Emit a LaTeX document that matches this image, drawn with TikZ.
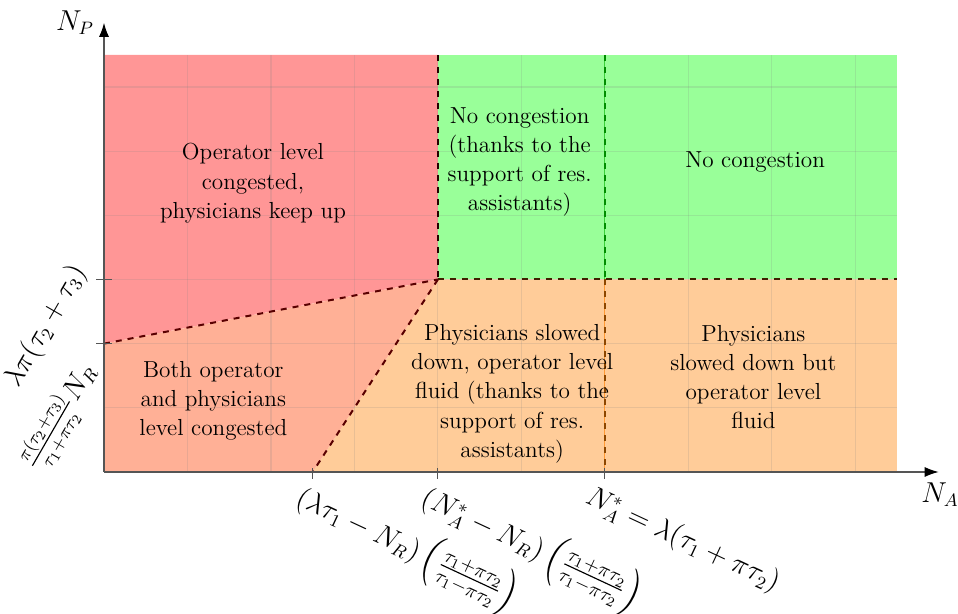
\documentclass[tikz,border=0pt]{standalone}
\usepackage{amsmath}
\usetikzlibrary{arrows.meta}
\definecolor{cRed}{RGB}{255,150,150}
\definecolor{cSalmon}{RGB}{255,176,150}
\definecolor{cOrange}{RGB}{255,204,153}
\definecolor{cGreen}{RGB}{153,255,153}
\definecolor{cAxis}{RGB}{85,85,85}
\newcommand{\bigfr}[2]{\frac{\mbox{\fontsize{10.3}{12}\selectfont$#1$}}{\mbox{\fontsize{10.3}{12}\selectfont$#2$}}}
\tikzset{
  region/.style={font=\fontsize{11.6}{14.6}\selectfont, align=center, inner sep=0pt},
  ticklab/.style={font=\fontsize{13.3}{15}\selectfont, inner sep=0pt},
  ylab/.style={font=\fontsize{13.5}{16}\selectfont, inner sep=0pt},
  axlab/.style={font=\fontsize{13.5}{16}\selectfont, inner sep=0pt},
  bord/.style={dashed, line width=1pt},
  tickmark/.style={cAxis, line width=0.6pt},
}
\begin{document}
\begin{tikzpicture}[x=0.5pt,y=0.5pt]
\useasboundingbox (0,0) rectangle (958,614);
\begin{scope}[shift={(104,142)}, x=41.735pt, y=32.085pt]
  % fills
  \fill[cRed] (0,2) -- (0,6.5) -- (4,6.5) -- (4,3) -- cycle;
  \fill[cGreen] (4,3) -- (4,6.5) -- (9.5,6.5) -- (9.5,3) -- cycle;
  \fill[cOrange] (2.5,0) -- (4,3) -- (9.5,3) -- (9.5,0) -- cycle;
  \fill[cSalmon] (0,0) -- (0,2) -- (4,3) -- (2.5,0) -- cycle;
  % grid
  \foreach \i in {1,...,9} \draw[gray, opacity=0.18, line width=0.6pt] (\i,0) -- (\i,6.5);
  \foreach \j in {1,...,6} \draw[gray, opacity=0.18, line width=0.6pt] (0,\j) -- (9.5,\j);
  % thin solid region lines
  \draw[green!75!black, opacity=0.6, line width=0.6pt] (6,3) -- (6,6.5);
  \draw[orange!80, line width=0.6pt] (6,0) -- (6,3);
  \draw[orange!60!black, line width=0.6pt] (0,0) -- (9.5,0);
  % named points
  \coordinate (O) at (0,0);
  \coordinate (Xend) at (10,0);
  \coordinate (Yend) at (0,7);
  \coordinate (C) at (4,3);
  \coordinate (L) at (0,2);
  \coordinate (L3) at (0,3);
  \coordinate (B) at (2.5,0);
  \coordinate (T4) at (4,6.5);
  \coordinate (T6) at (6,6.5);
  \coordinate (M6) at (6,3);
  \coordinate (B4) at (4,0);
  \coordinate (B6) at (6,0);
  \coordinate (R3) at (9.5,3);
  % dashed borders
  \draw[bord, black!85!red] (T4) -- (C);
  \draw[bord, red!35!black] (L) -- (C);
  \draw[bord, red!35!black] (C) -- (B);
  \draw[bord, black!75!orange] (C) -- (R3);
  \draw[bord, green!55!black] (T6) -- (M6);
  \draw[bord, orange!55!black] (M6) -- (B6);
  % axes
  \draw[cAxis, line width=0.6pt, -{Latex[black,length=7pt,width=5pt]}] (O) -- (Xend);
  \draw[cAxis, line width=0.6pt, -{Latex[black,length=7pt,width=5pt]}] (O) -- (Yend);
  % ticks
  \draw[tickmark] ([yshift=-3.5pt]B) -- ([yshift=2pt]B);
  \draw[tickmark] ([yshift=-3.5pt]B4) -- ([yshift=2pt]B4);
  \draw[tickmark] ([yshift=-3.5pt]B6) -- ([yshift=2pt]B6);
  \draw[tickmark] ([xshift=-4pt]L) -- ([xshift=4pt]L);
  \draw[tickmark] ([xshift=-4pt]L3) -- ([xshift=4pt]L3);
  % region texts
  \node[region] (t1) at (1.785,4.50) {Operator level\\congested,\\physicians keep up};
  \node[region] (t2) at (4.98,4.83) {No congestion\\(thanks to the\\support of res.\\assistants)};
  \node[region] (t3) at (7.8,4.83) {No congestion};
  \node[region] (t4) at (4.89,1.22) {Physicians slowed\\down, operator level\\fluid (thanks to the\\support of res.\\assistants)};
  \node[region] (t5) at (7.78,1.48) {Physicians\\slowed down but\\operator level\\fluid};
  \node[region] (t6) at (1.31,1.11) {Both operator\\and physicians\\level congested};
\end{scope}
% axis labels
\node[axlab] (np) at (75,591) {$N_P$};
\node[axlab] (na) at (940,119) {$N_A$};
% x tick labels
\node[ticklab, anchor=base west, rotate=-25] (xl1) at (294,110) {$(\lambda\tau_1 - N_R)\left(\bigfr{\tau_1{+}\pi\tau_2}{\tau_1{-}\pi\tau_2}\right)$};
\node[ticklab, anchor=base west, rotate=-25] (xl2) at (419,110) {$(N_A^* - N_R)\left(\bigfr{\tau_1{+}\pi\tau_2}{\tau_1{-}\pi\tau_2}\right)$};
\node[ticklab, anchor=base west, rotate=-25] (xl3) at (584,112) {$N_A^* = \lambda(\tau_1+\pi\tau_2)$};
% y tick labels
\node[ylab, anchor=base east, rotate=60] (yl1) at (86,343) {$\lambda\pi(\tau_2+\tau_3)$};
\node[ylab, anchor=base east, rotate=60] (yl2) at (96,244) {$\frac{\pi(\tau_2{+}\tau_3)}{\tau_1{+}\pi\tau_2}N_R$};
\end{tikzpicture}
\end{document}
